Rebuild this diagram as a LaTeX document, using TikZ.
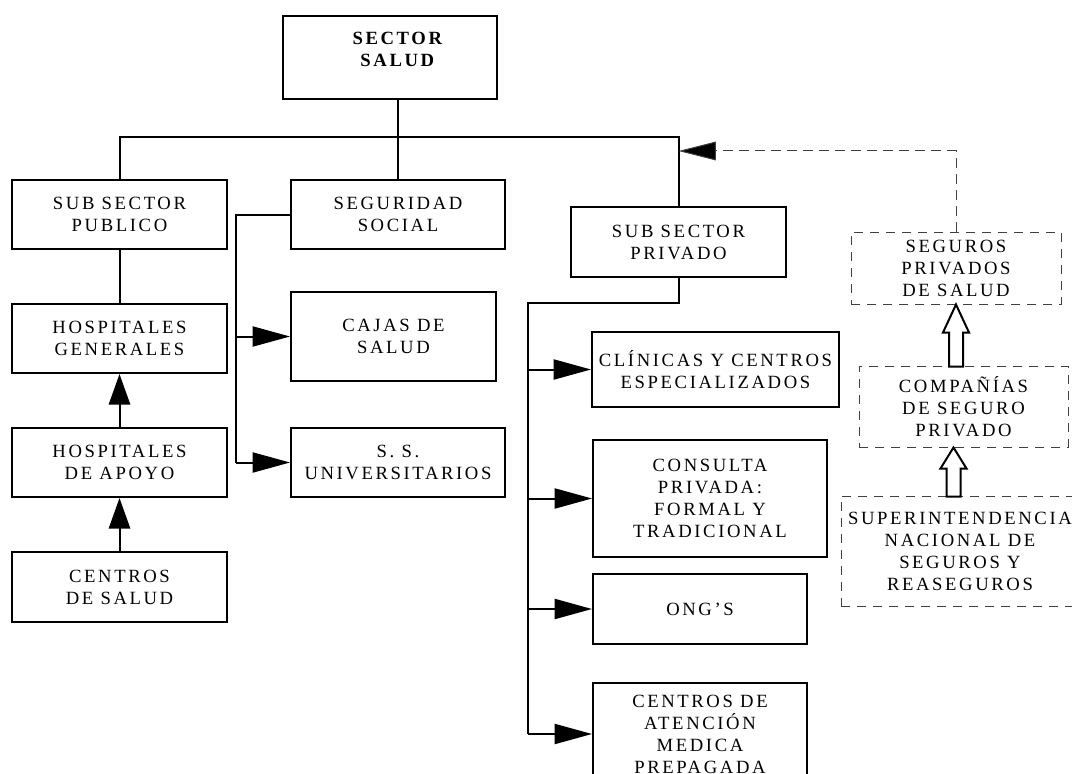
\documentclass[tikz,border=0pt]{standalone}
\usepackage{fontspec}
\setmainfont{Liberation Serif}[LetterSpace=14]
\usetikzlibrary{arrows.meta,calc}
\begin{document}
\begin{tikzpicture}[x=0.75pt,y=-0.75pt,
  txt/.style={align=center, font=\fontsize{14}{16.5}\selectfont},
  box/.style={txt, draw, line width=1.5pt, inner sep=0pt},
  dbox/.style={txt, draw=black!75, line width=0.75pt, dash pattern=on 7pt off 5pt, inner sep=0pt},
  sz/.style 2 args={minimum width={#1*0.75pt}, minimum height={#2*0.75pt}},
  conn/.style={line width=1.5pt},
  tri/.style={-{Triangle[length=28pt,width=15pt]}},
  vtri/.style={-{Triangle[length=23pt,width=16pt]}},
  hollow/.style={line width=1.5pt, fill=white, line join=miter}]
\useasboundingbox (0,0) rectangle (1072,774);
\clip (0,0) rectangle (1072,774);
% nodes
\node[box, sz={214}{83}, label={[txt, font=\bfseries\fontsize{14}{16.5}\selectfont, xshift=5.5pt, yshift=6pt]center:{SECTOR\\SALUD}}] (sector) at (390,57.5) {};
\node[box, sz={215}{69}] (ssp) at (119.5,214.5) {SUB SECTOR\\PUBLICO};
\node[box, sz={214}{69}] (ss) at (398,214.5) {SEGURIDAD\\SOCIAL};
\node[box, sz={215}{69}] (hg) at (119.5,338.5) {HOSPITALES\\GENERALES};
\node[box, sz={215}{69}] (hda) at (119.5,462.5) {HOSPITALES\\DE APOYO};
\node[box, sz={215}{70}] (cds) at (119.5,587) {CENTROS\\DE SALUD};
\node[box, sz={205}{89}] (cajas) at (393.5,336.5) {CAJAS DE\\SALUD};
\node[box, sz={214}{69}] (ssu) at (398,462.5) {S. S.\\UNIVERSITARIOS};
\node[box, sz={215}{70}] (sspriv) at (678.5,242) {SUB SECTOR\\PRIVADO};
\node[box, sz={247}{75}] (clin) at (715.5,369.5) {CLÍNICAS Y CENTROS\\ESPECIALIZADOS};
\node[box, sz={234}{117}] (cons) at (710,498.5) {CONSULTA\\PRIVADA:\\FORMAL Y\\TRADICIONAL};
\node[box, sz={214}{70}] (ong) at (700,609) {ONG’S};
\node[box, sz={214}{102}] (cam) at (700,734) {CENTROS DE\\ATENCIÓN\\MEDICA\\PREPAGADA};
\node[dbox, sz={210}{72}] (segu) at (956,268) {SEGUROS\\PRIVADOS\\DE SALUD};
\node[dbox, sz={209}{81}] (comp) at (963.5,406.5) {COMPAÑÍAS\\DE SEGURO\\PRIVADO};
\node[dbox, sz={238}{110}] (super) at (960,551) {SUPERINTENDENCIA\\NACIONAL DE\\SEGUROS Y\\REASEGUROS};
% connectors
\coordinate (bus) at (0,137);
\draw[conn] (sector.south -| ss.north) -- (ss.north);
\draw[conn] (ssp.north) |- (sspriv.north |- bus) -- (sspriv.north);
\draw[conn] (ssp.south) -- (hg.north);
\draw[conn, vtri] (hda.north) -- (hg.south);
\draw[conn, vtri] (cds.north) -- (hda.south);
\coordinate (ssb) at (236,0);
\draw[conn] (ss.west) -- (ss.west -| ssb) -- (ssb |- ssu.west);
\draw[conn, tri] (ssb |- cajas.west) -- (cajas.west);
\draw[conn, tri] (ssb |- ssu.west) -- (ssu.west);
\coordinate (pb) at (528,303);
\draw[conn] (sspriv.south) -- (sspriv.south |- pb) -- (pb) -- (pb |- cam.west);
\draw[conn, tri] (pb |- clin.west) -- (clin.west);
\draw[conn, tri] (pb |- cons.west) -- (cons.west);
\draw[conn, tri] (pb |- ong.west) -- (ong.west);
\draw[conn, tri] (pb |- cam.west) -- (cam.west);
\coordinate (dk) at (0,151);
\draw[draw=black!75, line width=0.75pt, dash pattern=on 7pt off 5pt, -{Triangle[length=28pt,width=14pt,fill=black]}] (segu.north) -- (segu.north |- dk) -- (sspriv.north |- dk);
\draw[hollow] (segu.south) -- ++(13,28) -- ++(-6,0) -- ++(0,34) -- ++(-14,0) -- ++(0,-34) -- ++(-6,0) -- cycle;
\coordinate (t2) at ($(comp.south)+(-10,0)$);
\draw[hollow] (t2) -- ++(13,21) -- ++(-6,0) -- ++(0,28) -- ++(-14,0) -- ++(0,-28) -- ++(-6,0) -- cycle;
\end{tikzpicture}
\end{document}
